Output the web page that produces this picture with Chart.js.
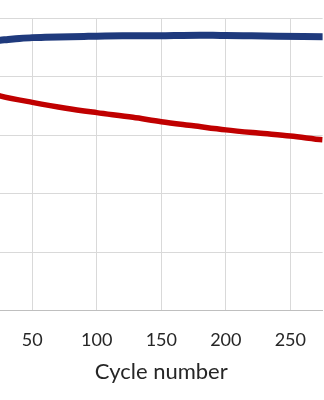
<!DOCTYPE html>
<html>
<head>
<meta charset="utf-8">
<script src="https://cdn.jsdelivr.net/npm/chart.js@4/dist/chart.umd.min.js"></script>
<style>
  html, body { margin: 0; padding: 0; background: #fff; }
  #wrap { width: 324px; height: 400px; }
</style>
</head>
<body>
<div id="wrap"><canvas id="grafico"></canvas></div>
<script>
const ciclosAzul = [1, 10, 20, 25, 30, 40, 50, 60, 70, 80, 90, 100, 120, 140, 160, 180, 190, 200, 220, 240, 260, 280];
const azul = [90.8, 91.4, 92.1, 92.4, 92.6, 93.0, 93.3, 93.4, 93.5, 93.6, 93.7, 93.8, 93.9, 93.9, 94.0, 94.1, 94.1, 94.0, 93.9, 93.8, 93.7, 93.6];

const ciclosVermelho = [1, 10, 25, 50, 76, 100, 128, 150, 175, 200, 225, 250, 275, 280];
const vermelho = [76.6, 75.2, 73.4, 71.2, 69.2, 67.7, 66.1, 64.6, 63.2, 61.8, 60.7, 59.7, 58.4, 58.2];

const xTicks = [50, 100, 150, 200, 250];

const pares = (xs, ys) => xs.map((x, i) => ({ x: x, y: ys[i] }));

document.addEventListener("DOMContentLoaded", function () {
    const ctx = document.getElementById("grafico").getContext("2d");

    new Chart(ctx, {
        type: "line",
        data: {
            datasets: [
                {
                    label: "Azul",
                    data: pares(ciclosAzul, azul),
                    borderColor: "#1f3a7d",
                    borderWidth: 7,
                    pointRadius: 0,
                    cubicInterpolationMode: "monotone",
                    fill: false,
                },
                {
                    label: "Vermelho",
                    data: pares(ciclosVermelho, vermelho),
                    borderColor: "#c00000",
                    borderWidth: 5.5,
                    pointRadius: 0,
                    cubicInterpolationMode: "monotone",
                    fill: false,
                },
            ],
        },
        options: {
            responsive: true,
            maintainAspectRatio: false,
            animation: false,
            layout: { padding: { top: 18, left: 0, right: 0, bottom: 0 } },
            plugins: {
                legend: { display: false },
                tooltip: { enabled: false },
            },
            scales: {
                x: {
                    type: "linear",
                    min: 25,
                    max: 275,
                    afterBuildTicks: (axis) => {
                        axis.ticks = xTicks.map((v) => ({ value: v }));
                    },
                    grid: { color: "#d9d9d9", lineWidth: 1, drawTicks: false },
                    border: { color: "#bfbfbf", width: 1 },
                    ticks: {
                        padding: 18,
                        color: "#262626",
                        font: { family: "Lato", size: 18 },
                        maxRotation: 0,
                        autoSkip: false,
                    },
                    title: {
                        display: true,
                        text: "Cycle number",
                        color: "#262626",
                        font: { family: "Lato", size: 22, lineHeight: "7px" },
                        padding: { top: 0, bottom: 24.5 },
                    },
                },
                y: {
                    min: 0,
                    max: 100,
                    ticks: { display: false, stepSize: 20 },
                    grid: { color: "#d9d9d9", lineWidth: 1, drawTicks: false },
                    border: { display: false },
                },
            },
        },
    });
});
</script>
</body>
</html>
